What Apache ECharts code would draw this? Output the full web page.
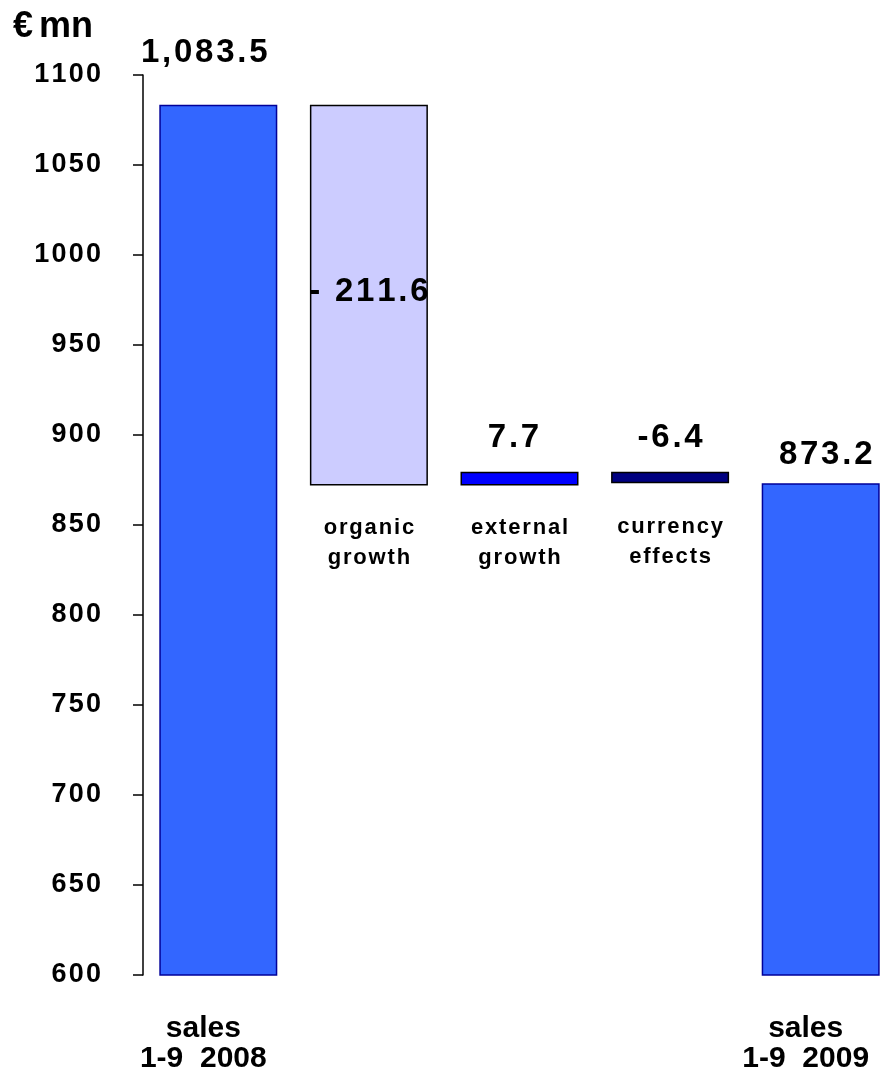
<!DOCTYPE html>
<html>
<head>
<meta charset="utf-8">
<script src="https://cdn.jsdelivr.net/npm/echarts@6/dist/echarts.min.js"></script>
<style>
  html, body { margin: 0; padding: 0; background: #fff; }
  #chart { width: 881px; height: 1080px; }
</style>
</head>
<body>
<div id="chart"></div>
<script>
// Sales bridge 1-9 2008 -> 1-9 2009 (€ million)
const categories = ['sales 2008', 'organic growth', 'external growth', 'currency effects', 'sales 2009'];
const startSales = 1083.5;
const deltas = [-211.6, 7.7, -6.4];      // organic, external, currency
const endSales = 873.2;
const valueLabels = ['1,083.5', '- 211.6', '7.7', '-6.4', '873.2'];
const bridgeLabels = ['', 'organic\ngrowth', 'external\ngrowth', 'currency\neffects', ''];
const axisCategoryLabels = ['sales\n1-9  2008', '', '', '', 'sales\n1-9  2009'];
const yTicks = { min: 600, max: 1100, interval: 50 };

// Build floating segments: invisible base + visible part
const base = [0];
const visible = [startSales];
let running = startSales;
deltas.forEach(d => {
  const next = +(running + d).toFixed(1);
  base.push(Math.min(running, next));
  visible.push(Math.abs(d));
  running = next;
});
base.push(0);
visible.push(endSales);

const fills = ['#3366FF', '#CCCCFF', '#0000FF', '#000080', '#3366FF'];
const borders = ['#000099', '#000000', '#000000', '#000000', '#000099'];
const labelOffsets = [[-14, -30], [0, -3], [-6, -12], [0, -12], [5, -7]];
const bridgeLabelGap = [0, 27, 27, 29, 0];

// spread characters apart with narrow spaces
const HAIR = '\u200A';
const spaced = (s, sep) => s.split('\n').map(l => l.split('').join(sep)).join('\n');
const FONT = '"Liberation Sans", Arial, sans-serif';

const chart = echarts.init(document.getElementById('chart'), null, { renderer: 'canvas' });
chart.setOption({
  animation: false,
  backgroundColor: '#ffffff',
  title: {
    text: '€' + HAIR + HAIR + 'mn',
    left: 8, top: 4,
    textStyle: { fontFamily: FONT, fontWeight: 'bold', fontSize: 36, color: '#000' }
  },
  grid: { left: 143, width: 753, top: 75, bottom: 105, containLabel: false, outerBoundsMode: 'none' },
  xAxis: {
    type: 'category',
    data: categories,
    axisLine: { show: false },
    axisTick: { show: false },
    axisLabel: {
      interval: 0,
      margin: 39,
      fontFamily: FONT, fontWeight: 'bold', fontSize: 30, color: '#000',
      lineHeight: 30,
      padding: [0, 30, 0, 0],
      formatter: (v, i) => axisCategoryLabels[i]
    }
  },
  yAxis: {
    type: 'value',
    min: yTicks.min, max: yTicks.max, interval: yTicks.interval,
    splitLine: { show: false },
    axisLine: { show: true, lineStyle: { color: '#000', width: 1.5 } },
    axisTick: { show: true, length: 10, lineStyle: { color: '#000', width: 1.5 } },
    axisLabel: {
      margin: 42,
      fontFamily: FONT, fontWeight: 'bold', fontSize: 27, color: '#000',
      formatter: v => spaced(String(v), HAIR)
    }
  },
  series: [
    {
      type: 'bar',
      stack: 'bridge',
      barWidth: 118,
      silent: true,
      data: base.map((v, i) => ({
        value: v,
        itemStyle: { color: 'transparent' },
        label: {
          show: bridgeLabels[i] !== '',
          position: 'insideTop',
          distance: bridgeLabelGap[i],
          fontFamily: FONT, fontWeight: 'bold', fontSize: 22, color: '#000',
          lineHeight: 30,
          formatter: () => spaced(bridgeLabels[i], HAIR)
        }
      }))
    },
    {
      type: 'bar',
      stack: 'bridge',
      barWidth: 118,
      data: visible.map((v, i) => ({
        value: v,
        itemStyle: { color: fills[i], borderColor: borders[i], borderWidth: 1.5 },
        label: {
          show: true,
          position: i === 1 ? 'inside' : 'top',
          offset: labelOffsets[i],
          fontFamily: FONT, fontWeight: 'bold', fontSize: 33, color: '#000',
          formatter: () => spaced(valueLabels[i], HAIR)
        }
      }))
    }
  ]
});
</script>
</body>
</html>
